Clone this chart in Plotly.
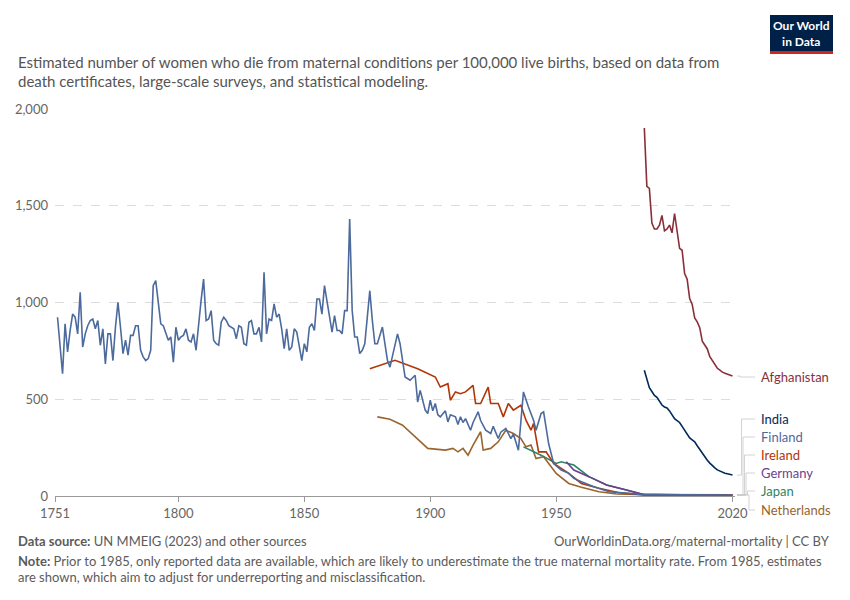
import plotly.graph_objects as go

fin_early = [924,787,632,890,745,855,940,924,838,1053,770,838,880,907,915,864,907,779,864,683,
 838,838,700,872,1001,872,736,805,728,830,830,880,880,753,719,700,710,753,1087,1113,
 993,890,880,838,805,822,692,872,805,822,830,864,805,796,838,753,898,1010,1121,907,
 915,958,805,787,779,898,924,907,880,872,864,813,880,872,787,779,898,907,838,838,
 872,796,1156,838,915,907,993,924,940,864,762,864,753,770,864,847,770,700,787,745,
 872,890,855,1018,1018,940,1087,1010,940,847,932,855,855,838,958,958,1431,958,822,822,
 736,753,787,940,1061,907,787]
fin_early_years = list(range(1752, 1752 + len(fin_early)))
fin_late_years = [1879,1881,1883,1884,1887,1888,1890,1892,1894,1895,1896,1898,1899,1900,1901,1902,1903,1904,1906,1907,1908,1910,1911,1912,1913,1914,1916,1917,1919,1920,1922,1924,1925,1927,1928,1930,1932,1933,1935,1937,1939,1941,1942,1944,1945,1947,1949,1952,1955,1957,1960,1965,1971,1977,1985,2000,2010,2020]
fin_late = [787,873,701,666,838,787,615,598,624,486,546,444,426,495,440,478,420,409,440,383,420,409,370,409,380,400,340,380,435,390,340,323,360,297,330,349,297,320,237,538,460,392,340,426,435,271,168,134,117,91,74,48,22,14,7,6,5,5]
finland_years = fin_early_years + fin_late_years
finland = fin_early + fin_late

ireland_years = [1876,1886,1895,1902,1904,1907,1908,1910,1912,1914,1917,1918,1920,1923,1924,1927,1929,1931,1933,1936,1938,1940,1941,1943,1946,1949,1955,1960,1967,1975,1985,2000,2020]
ireland = [658,701,658,615,563,580,495,538,529,538,572,478,478,563,478,478,409,478,444,469,392,340,375,228,228,168,117,65,40,17,6,5,5]

neth_years = [1879,1884,1889,1894,1899,1906,1909,1911,1913,1915,1917,1920,1921,1924,1927,1930,1933,1936,1938,1940,1942,1945,1947,1950,1955,1960,1967,1974,1985,2000,2020]
netherlands = [409,397,366,306,246,237,246,228,246,211,263,332,237,246,280,340,323,297,254,263,194,203,168,117,65,45,22,10,7,8,6]

japan_years = [1937,1944,1950,1952,1957,1963,1970,1978,1984,2000,2020]
japan = [254,211,168,177,160,100,57,28,10,6,5]

germany_years = [1954,1957,1963,1970,1978,1985,2000,2020]
germany = [177,134,100,57,31,6,5,5]

recent_years = list(range(1985, 2021))
india = [650,600,560,540,520,510,490,470,460,455,440,420,400,390,380,360,340,320,300,290,
 280,260,240,220,200,185,170,155,145,135,128,122,118,115,112,108]
afghanistan = [1902,1600,1590,1410,1380,1380,1400,1450,1370,1380,1400,1360,1460,1380,1280,1270,
 1150,1120,1020,990,920,900,870,800,780,760,720,700,680,660,650,640,635,630,625,620]

OFF = 8  # page offset of the figure in the screenshot
L, R, T, B = 55 - OFF, 850 - 735 + OFF, 109 - OFF, 600 - 496 + OFF
pw, ph = 850 - L - R, 600 - T - B
def fpx(x): return (x - OFF - L) / pw
def fpy(y): return (600 - B - (y - OFF)) / ph

series = [
    ("Afghanistan", recent_years, afghanistan, "#883039", 377),
    ("India", recent_years, india, "#00295B", 419),
    ("Finland", finland_years, finland, "#4C6A9C", 437),
    ("Ireland", ireland_years, ireland, "#B13507", 455),
    ("Germany", germany_years, germany, "#6D3E91", 473),
    ("Japan", japan_years, japan, "#2C8465", 491),
    ("Netherlands", neth_years, netherlands, "#9A652E", 510),
]
draw_order = ["Netherlands", "Japan", "Germany", "Ireland", "Finland", "India", "Afghanistan"]

fig = go.Figure()
byname = {s[0]: s for s in series}
for n in draw_order:
    name, xs, ys, col, _ = byname[n]
    fig.add_trace(go.Scatter(x=xs, y=ys, mode="lines", name=name,
                             line=dict(color=col, width=1.6), hoverinfo="x+y+name"))

shapes, annos = [], []
for i, (name, xs, ys, col, lpx) in enumerate(series):
    yend = ys[-1] / 2000
    xb = fpx(740 + i * 1.5)
    shapes.append(dict(type="path", xref="paper", yref="paper",
                       path=f"M {fpx(737)},{yend} L {xb},{yend} L {xb},{fpy(lpx)} L {fpx(755)},{fpy(lpx)}",
                       line=dict(color="#c8c8c8", width=0.8)))
    annos.append(dict(x=fpx(759), y=fpy(lpx), xref="paper", yref="paper", text=name, showarrow=False,
                      xanchor="left", yanchor="middle", font=dict(color=col, size=13)))

def txt(x, y, text, anchor="left", size=13, color="#5b5b5b"):
    annos.append(dict(x=fpx(x), y=fpy(y), xref="paper", yref="paper", xanchor=anchor, yanchor="middle",
                      text=text, showarrow=False, font=dict(size=size, color=color)))

txt(16, 62, "Estimated number of women who die from maternal conditions per 100,000 live births, based on data from", size=15, color="#555555")
txt(16, 81, "death certificates, large-scale surveys, and statistical modeling.", size=15, color="#555555")
txt(16, 541, "<b>Data source:</b> UN MMEIG (2023) and other sources")
txt(832, 541, "OurWorldinData.org/maternal-mortality | CC BY", anchor="right")
txt(16, 561, "<b>Note:</b> Prior to 1985, only reported data are available, which are likely to underestimate the true maternal mortality rate. From 1985, estimates")
txt(16, 577, "are shown, which aim to adjust for underreporting and misclassification.")
txt(801.5, 33, "<b>Our World<br>in Data</b>", anchor="center", size=12, color="white")

shapes.insert(0, dict(type="rect", xref="paper", yref="paper", x0=fpx(770), x1=fpx(833), y0=fpy(52), y1=fpy(15),
                   fillcolor="#002147", line=dict(width=0), layer="below"))
shapes.insert(1, dict(type="rect", xref="paper", yref="paper", x0=fpx(770), x1=fpx(833), y0=fpy(54), y1=fpy(51),
                   fillcolor="#CE261E", line=dict(width=0), layer="below"))

fig.update_layout(
    width=850, height=600, margin=dict(l=L, r=R, t=T, b=B, autoexpand=False),
    paper_bgcolor="white", plot_bgcolor="rgba(0,0,0,0)", showlegend=False,
    font=dict(family="Lato, Noto Sans, sans-serif", color="#666666"),
    shapes=shapes, annotations=annos,
    xaxis=dict(range=[1751, 2021], tickvals=[1751, 1800, 1850, 1900, 1950, 2020], automargin=False,
               showgrid=False, showline=True, linecolor="#999999", ticks="outside",
               tickcolor="#999999", ticklen=5, tickfont=dict(size=13, color="#666666"), zeroline=False),
    yaxis=dict(range=[0, 2000], tickvals=[0, 500, 1000, 1500, 2000], tickformat=",", automargin=False,
               showgrid=True, gridcolor="#dddddd", griddash="dash", zeroline=False,
               tickfont=dict(size=13, color="#666666"), ticks="", ticklabelstandoff=6),
)
fig.write_html("out.html")
